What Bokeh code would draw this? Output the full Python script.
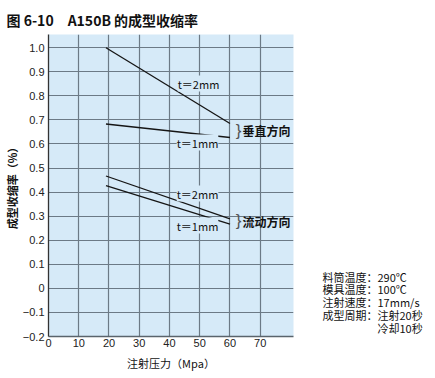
from bokeh.plotting import figure
from bokeh.models import Range1d, FixedTicker, Label, LinearAxis, Title
from bokeh.embed import file_html
from bokeh.resources import INLINE

# ---- data ----
pressure = [19, 60]                 # injection pressure (MPa)
vert_t2 = [1.0, 0.685]              # 垂直方向 t=2mm
vert_t1 = [0.683, 0.627]            # 垂直方向 t=1mm
flow_t2 = [0.467, 0.289]            # 流动方向 t=2mm
flow_t1 = [0.427, 0.267]            # 流动方向 t=1mm

x_ticks = [0, 10, 20, 30, 40, 50, 60, 70]
y_ticks = [-0.2, -0.1, 0, 0.1, 0.2, 0.3, 0.4, 0.5, 0.6, 0.7, 0.8, 0.9, 1.0]
y_tick_labels = ["−0.2", "−0.1", "0", "0.1", "0.2", "0.3", "0.4", "0.5",
                 "0.6", "0.7", "0.8", "0.9", "1.0"]

title_text = "图 6-10\u3000A150B 的成型收缩率"
x_label = "注射压力（Mpa）"
y_label = "成型收缩率（%）"
t2_text = "t＝2mm"
t1_text = "t＝1mm"
vert_text = "垂直方向"
flow_text = "流动方向"
conditions = ["料筒温度：290℃", "模具温度：100℃", "注射速度：17mm/s",
              "成型周期：注射20秒", "\u3000\u3000\u3000\u3000\u3000冷却10秒"]

# ---- layout ----
W, H = 435, 378
FL, FR, FT, FB = 48, 293, 34, 336
X0, X1 = 0, 81
Y0, Y1 = -0.2, 1.055

CJK = "Noto Sans CJK SC"
LAT = "Liberation Sans"
BG = "#d6eaf8"

p = figure(width=W, height=H, output_backend="svg", toolbar_location=None,
           x_range=Range1d(X0, X1), y_range=Range1d(Y0, Y1),
           min_border_left=FL, min_border_right=W - FR,
           min_border_top=FT, min_border_bottom=H - FB)
p.background_fill_color = BG
p.border_fill_color = "white"
p.outline_line_color = None

def dx(px):
    return X0 + (px - FL) * (X1 - X0) / (FR - FL)

def dy(py):
    return Y1 - (py - FT) * (Y1 - Y0) / (FB - FT)

# title
p.title = Title(text=title_text, align="left", offset=-42, standoff=10,
                text_font=CJK, text_font_size="14px", text_font_style="bold",
                text_color="#111111")

# axes
xaxis = p.xaxis[0]
yaxis = p.yaxis[0]
xaxis.ticker = FixedTicker(ticks=x_ticks)
yaxis.ticker = FixedTicker(ticks=y_ticks)
yaxis.major_label_overrides = {t: s for t, s in zip(y_ticks, y_tick_labels)}
for ax in (xaxis, yaxis):
    ax.major_tick_out = 0
    ax.major_tick_in = 0
    ax.minor_tick_out = 0
    ax.minor_tick_in = 0
    ax.major_label_text_font = LAT
    ax.major_label_text_font_size = "11px"
    ax.major_label_text_color = "#222222"
    ax.axis_label_text_font = CJK
    ax.axis_label_text_font_size = "11px"
    ax.axis_label_text_color = "#111111"
    ax.axis_label_text_font_style = "normal"
xaxis.axis_label = x_label
yaxis.axis_label = y_label
yaxis.axis_label_text_font_style = "bold"
xaxis.major_label_standoff = 2
yaxis.major_label_standoff = 4
xaxis.axis_label_standoff = 5
yaxis.axis_label_standoff = 0
yaxis.axis_line_color = "#333333"
yaxis.axis_line_width = 1.3
xaxis.axis_line_color = "#5a646c"
xaxis.axis_line_width = 1.5

# right-hand text block: moulding conditions, set as labels of a bare right axis
cond_pos = [dy(276 + 12.8 * i) for i in range(len(conditions))]
cond_axis = LinearAxis(ticker=FixedTicker(ticks=cond_pos),
                       major_label_overrides={t: s for t, s in zip(cond_pos, conditions)},
                       axis_line_color=None, major_tick_out=0, major_tick_in=0,
                       minor_tick_out=0, minor_tick_in=0,
                       major_label_standoff=29,
                       major_label_text_font=CJK, major_label_text_font_size="11px",
                       major_label_text_color="#111111")
p.add_layout(cond_axis, "right")

# grid
p.xgrid.ticker = FixedTicker(ticks=x_ticks)
p.ygrid.ticker = FixedTicker(ticks=y_ticks)
for g in (p.xgrid, p.ygrid):
    g.grid_line_color = "#6c7a86"
    g.grid_line_width = 1.2

# data lines
for ys in (vert_t2, vert_t1, flow_t2, flow_t1):
    p.line(pressure, ys, line_color="#151515", line_width=1.3)

def lab(text, px, py, size="11px", font=CJK, align="left", bold=False, bg=None, color="#111111"):
    kw = {}
    if bg is not None:
        kw["background_fill_color"] = bg
    p.add_layout(Label(x=dx(px), y=dy(py), text=text, text_font=font,
                       text_font_size=size, text_align=align, text_baseline="middle",
                       text_color=color,
                       text_font_style="bold" if bold else "normal", **kw))

# line labels
lab(t2_text, 198, 83, align="center", bg=BG)
lab(t1_text, 197, 142, align="center", bg=BG)
lab(t2_text, 197, 193, align="center", bg=BG)
lab(t1_text, 197, 225, align="center", bg=BG)

# brackets and group labels
lab("}", 238, 130, size="17px", font=LAT, align="center", color="#555555")
lab("}", 238, 220, size="17px", font=LAT, align="center", color="#555555")
lab(vert_text, 242, 130, size="12px", bold=True)
lab(flow_text, 242, 221, size="12px", bold=True)

open("out.html", "w").write(file_html(p, INLINE))
